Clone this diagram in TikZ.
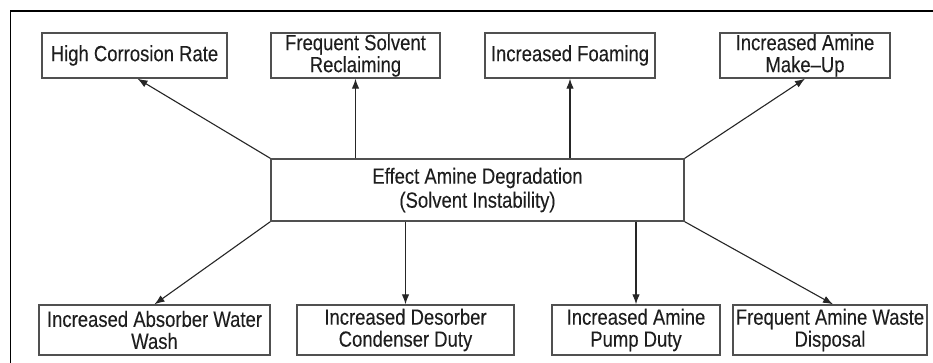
\documentclass[tikz,border=0pt]{standalone}
\usepackage{fontspec}
\setmainfont{Liberation Sans}[FakeStretch=0.84,FakeBold=0.12]
\usetikzlibrary{arrows.meta,calc}
\definecolor{boxline}{HTML}{505050}
\definecolor{arrline}{HTML}{262626}
\definecolor{txt}{HTML}{1E1E1E}
\tikzset{
  effbox/.style={draw=boxline, line width=1.4pt, fill=white, inner sep=0pt,
    align=center, text=txt, font=\fontsize{22}{22}\selectfont},
  arr/.style={draw=arrline, line width=1.1pt, -{Latex[length=10pt,width=7.5pt]}},
  frame/.style={draw=black, line width=1.2pt}
}
\begin{document}
\begin{tikzpicture}[x=1pt,y=-1pt]
\useasboundingbox (0,0) rectangle (933,363);
\fill[white] (0,0) rectangle (933,363);
\draw[frame] (933,11) -- (10.5,11) -- (10.5,363);

% top row
\node[effbox, minimum width=185, minimum height=45] (hcr) at (134.5,55.5) {High Corrosion Rate};
\node[effbox, minimum width=169, minimum height=45] (fsr) at (355.5,55.5) {Frequent Solvent\\Reclaiming};
\node[effbox, minimum width=170, minimum height=45] (ifo) at (570,55.5) {Increased Foaming};
\node[effbox, minimum width=170, minimum height=45] (iam) at (805,55.5) {Increased Amine\\Make--Up};

% centre
\node[effbox, minimum width=413, minimum height=62, font=\fontsize{22}{24}\selectfont] (c) at (477.5,190) {Effect Amine Degradation\\(Solvent Instability)};

% bottom row
\node[effbox, minimum width=231, minimum height=50] (iaww) at (154.5,330) {Increased Absorber Water\\Wash};
\node[effbox, minimum width=217, minimum height=50] (idcd) at (405.5,330) {Increased Desorber\\Condenser Duty};
\node[effbox, minimum width=168, minimum height=50] (iapd) at (636,330) {Increased Amine\\Pump Duty};
\node[effbox, minimum width=194, minimum height=50] (fawd) at (830,330) {Frequent Amine Waste\\Disposal};

% connectors
\draw[arr] (c.north west) -- ([xshift=3pt]hcr.south);
\draw[arr] (fsr.south |- c.north) -- (fsr.south);
\draw[arr] (ifo.south |- c.north) -- (ifo.south);
\draw[arr] (c.north east) -- (iam.south);
\draw[arr] (c.south west) -- (iaww.north);
\draw[arr] (idcd.north |- c.south) -- (idcd.north);
\draw[arr] (iapd.north |- c.south) -- (iapd.north);
\draw[arr] (c.south east) -- ([xshift=3pt]fawd.north);
\end{tikzpicture}
\end{document}
